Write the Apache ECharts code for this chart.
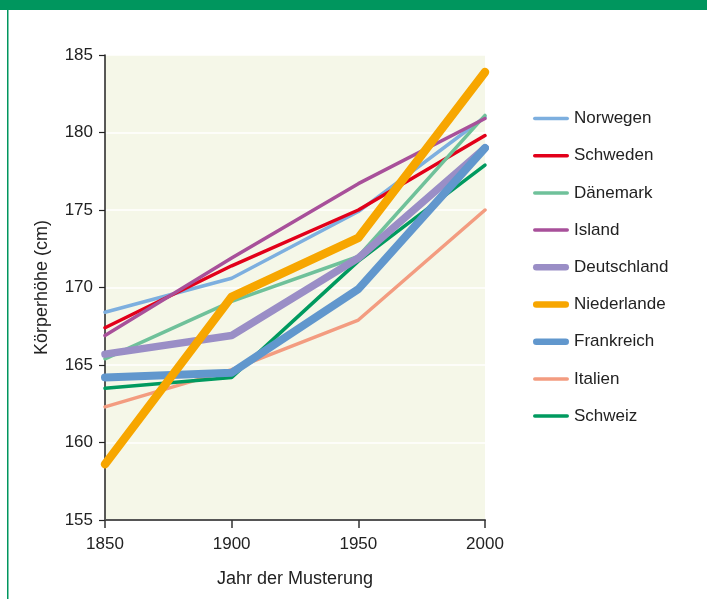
<!DOCTYPE html>
<html>
<head>
<meta charset="utf-8">
<script src="https://cdn.jsdelivr.net/npm/echarts@6/dist/echarts.min.js"></script>
<style>
	html, body { margin: 0; padding: 0; background: #fff; }
	#chart { width: 707px; height: 599px; }
</style>
</head>
<body>
<div id="chart"></div>
<script>
// Jahre der Musterung
var years = [1850, 1900, 1950, 2000];

// Körperhöhe in cm je Land
var norwegen = [168.4, 170.6, 174.9, 181.0];
var schweden = [167.4, 171.4, 175.0, 179.8];
var daenemark = [165.4, 169.1, 172.0, 181.1];
var island = [166.9, 171.9, 176.7, 180.9];
var deutschland = [165.7, 166.9, 171.9, 179.0];
var niederlande = [158.6, 169.4, 173.2, 183.9];
var frankreich = [164.2, 164.5, 169.9, 179.0];
var italien = [162.3, 164.7, 167.9, 175.0];
var schweiz = [163.5, 164.2, 171.7, 177.9];

var yTicks = [155, 160, 165, 170, 175, 180, 185];

var laender = [
	{ name: 'Norwegen', values: norwegen, color: '#7dafdf', width: 3.5, z: 2 },
	{ name: 'Schweden', values: schweden, color: '#e2001a', width: 3.5, z: 2 },
	{ name: 'Dänemark', values: daenemark, color: '#6fc19a', width: 3.5, z: 2 },
	{ name: 'Island', values: island, color: '#a8509a', width: 3.5, z: 2 },
	{ name: 'Deutschland', values: deutschland, color: '#9a8ec6', width: 7.5, z: 3 },
	{ name: 'Niederlande', values: niederlande, color: '#f7a600', width: 8.5, z: 5 },
	{ name: 'Frankreich', values: frankreich, color: '#6197cd', width: 8, z: 4 },
	{ name: 'Italien', values: italien, color: '#f39c80', width: 3.5, z: 2 },
	{ name: 'Schweiz', values: schweiz, color: '#009a5f', width: 3.5, z: 2 }
];

// abgerundeter Strich als Legendensymbol
function strich(h) {
	var r = h / 2;
	var len = 36 - h;
	return 'path://M' + r + ',0h' + len + 'a' + r + ',' + r + ' 0 0 1 0,' + h +
		'h-' + len + 'a' + r + ',' + r + ' 0 0 1 0,-' + h + 'z';
}

function renderChart() {
	var myChart = echarts.init(document.getElementById('chart'));
	var font = '"Liberation Sans", Arial, sans-serif';

	var series = [];
	var legendData = [];
	for (var i = 0; i < laender.length; i++) {
		var land = laender[i];
		var pts = [];
		for (var j = 0; j < years.length; j++) {
			pts.push([years[j], land.values[j]]);
		}
		series.push({
			name: land.name,
			type: 'line',
			data: pts,
			symbol: 'none',
			z: land.z,
			color: land.color,
			lineStyle: {
				color: land.color,
				width: land.width,
				cap: 'round',
				join: 'round'
			},
			emphasis: { disabled: true }
		});
		legendData.push({
			name: land.name,
			icon: strich(land.width > 5 ? 6.5 : 3.5),
			itemStyle: { color: land.color }
		});
	}

	var option = {
		animation: false,
		backgroundColor: '#fff',
		graphic: [
			{ type: 'rect', shape: { x: 0, y: 0, width: 707, height: 10 }, style: { fill: '#00965e' } },
			{ type: 'rect', shape: { x: 7, y: 10, width: 1.5, height: 589 }, style: { fill: '#00965e' } }
		],
		legend: {
			orient: 'vertical',
			left: 528,
			top: 105,
			itemWidth: 36,
			itemHeight: 14,
			itemGap: 20.2,
			symbolKeepAspect: true,
			textStyle: { fontFamily: font, fontSize: 17, color: '#222' },
			data: legendData
		},
		grid: {
			left: 105,
			right: 222,
			top: 55,
			bottom: 79,
			show: true,
			backgroundColor: '#f5f7e8',
			borderWidth: 0
		},
		xAxis: {
			type: 'value',
			min: 1850,
			max: 2000,
			interval: 50,
			name: 'Jahr der Musterung',
			nameLocation: 'middle',
			nameGap: 50,
			nameTextStyle: { fontFamily: font, fontSize: 18, color: '#222' },
			axisLine: { show: true, lineStyle: { color: '#555', width: 2 } },
			axisTick: { show: true, length: 8, lineStyle: { color: '#333', width: 1.5 } },
			axisLabel: {
				fontFamily: font, fontSize: 17, color: '#222', margin: 16,
				formatter: function(v) { return String(v); }
			},
			splitLine: { show: false }
		},
		yAxis: {
			type: 'value',
			min: 155,
			max: 185,
			interval: 5,
			name: 'Körperhöhe (cm)',
			nameLocation: 'middle',
			nameGap: 54,
			nameTextStyle: { fontFamily: font, fontSize: 18, color: '#222' },
			axisLine: { show: true, lineStyle: { color: '#222', width: 1.5 } },
			axisTick: { show: true, length: 6, lineStyle: { color: '#222', width: 1.2 } },
			axisLabel: {
				fontFamily: font, fontSize: 17, color: '#222', margin: 12,
				formatter: function(v) { return yTicks.indexOf(v) >= 0 ? String(v) : ''; }
			},
			splitLine: { show: true, lineStyle: { color: '#ffffff', width: 1.5 } }
		},
		series: series
	};
	myChart.setOption(option);
	window.onresize = function() {
		myChart.resize();
	};
}

renderChart();
</script>
</body>
</html>
